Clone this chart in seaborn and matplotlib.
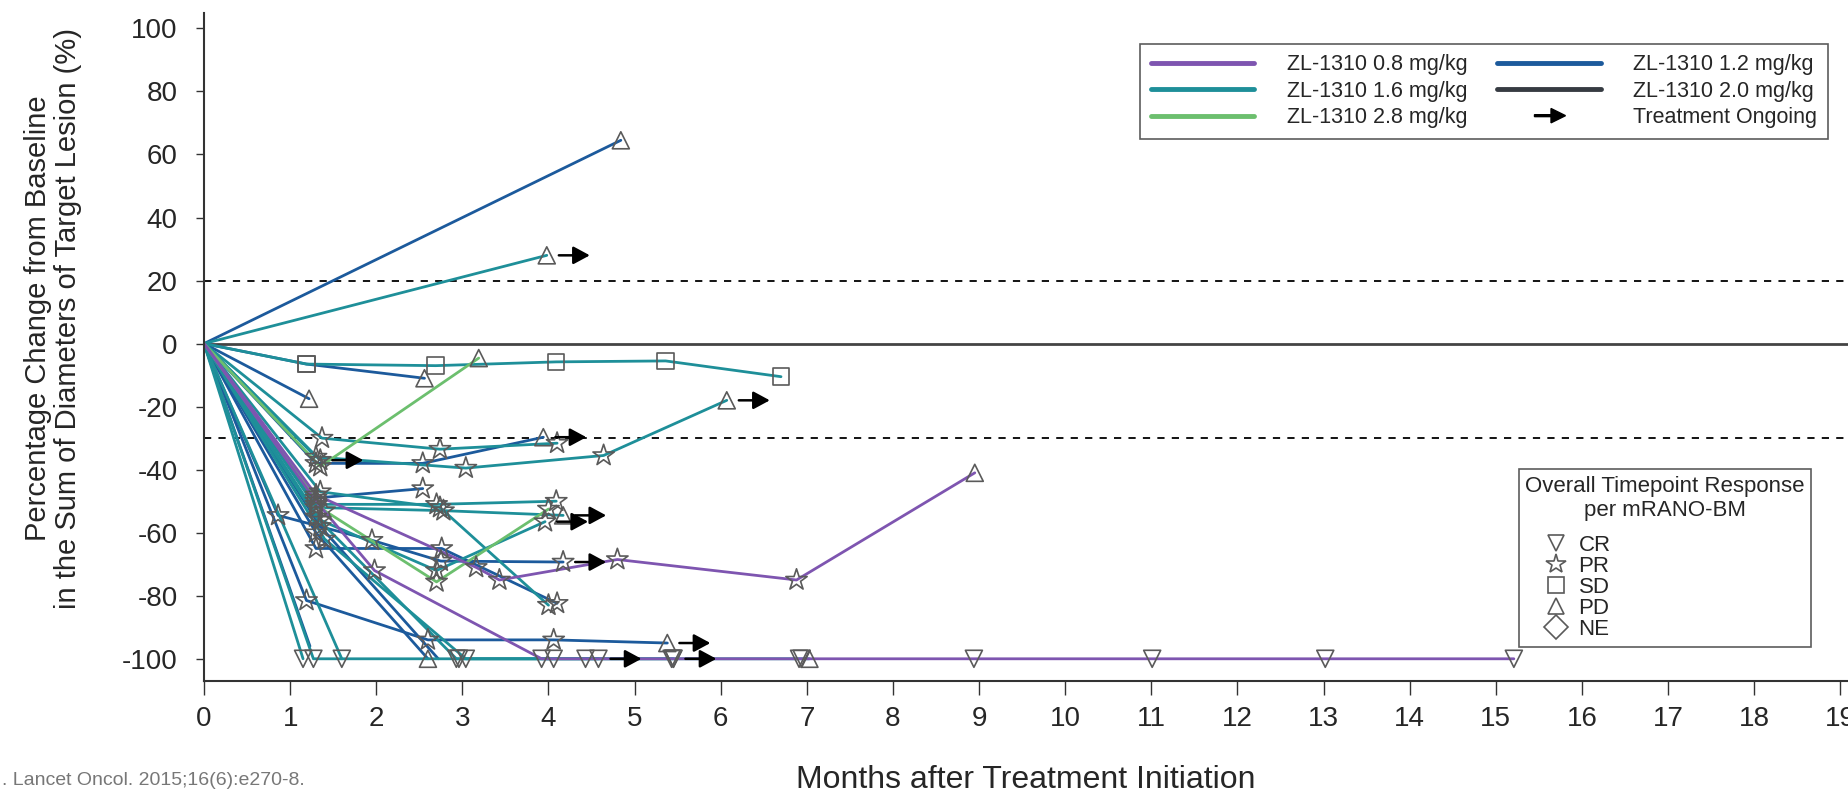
import matplotlib
matplotlib.use("Agg")
import matplotlib.pyplot as plt
import matplotlib.patches as mpatches
from matplotlib.legend_handler import HandlerPatch
from matplotlib.lines import Line2D
import pandas as pd
import seaborn as sns

DOSE_LABELS = ["0.8", "1.2", "1.6", "2.0", "2.8"]
DOSE_COLORS = ["#7e55b0", "#1c5a9c", "#1e8f99", "#363b42", "#6cbf6e"]

RESPONSES = ["CR", "PR", "SD", "PD", "NE"]
RESPONSE_MARKERS = ["v", "*", "s", "^", "D"]
RESPONSE_SIZES = [150, 260, 140, 150, 110]

X_TICKS = list(range(0, 20))
Y_TICKS = list(range(-100, 101, 20))

# one entry per patient: dose, assessment months, % change, response at each visit
PATIENT_DOSE = [
    "1.2", "1.6", "1.6", "1.2", "1.2", "2.8", "1.6", "1.2", "1.6", "1.6",
    "1.2", "1.6", "1.6", "2.8", "1.6", "1.6", "1.2", "1.2", "0.8", "0.8",
    "1.2", "1.6", "1.6", "1.6", "1.2", "1.2", "1.2", "1.6", "1.6",
]
PATIENT_MONTHS = [
    [0, 4.84],
    [0, 3.98],
    [0, 1.19, 2.69, 4.09, 5.36, 6.7],
    [0, 1.19, 2.56],
    [0, 1.22],
    [0, 1.35, 3.19],
    [0, 1.37, 2.74, 4.1],
    [0, 1.3, 2.54, 3.94],
    [0, 1.3, 3.04, 4.64, 6.07],
    [0, 1.35],
    [0, 1.3, 2.54],
    [0, 1.3, 2.7, 4.09],
    [0, 1.35, 2.74, 4.0],
    [0, 1.4, 2.7, 4.0],
    [0, 1.35, 2.7, 3.96],
    [0, 1.3, 2.78, 4.17],
    [0, 1.3, 2.76, 4.1],
    [0, 0.86, 1.95, 2.75, 4.17],
    [0, 1.3, 3.16, 3.43, 4.8, 6.88, 8.95],
    [0, 1.3, 1.98, 3.92, 5.43, 6.91, 8.94, 11.01, 13.02, 15.21],
    [0, 1.19, 2.6, 4.06, 5.38],
    [0, 1.27, 2.96, 4.06, 5.45],
    [0, 1.15],
    [0, 1.3, 2.93, 4.43, 5.45, 6.94, 7.03],
    [0, 1.23],
    [0, 1.3, 2.6],
    [0, 1.35, 2.72],
    [0, 1.6],
    [0, 1.4, 3.04, 4.58],
]
PATIENT_CHANGE = [
    [0, 64.5],
    [0, 28],
    [0, -6.5, -7, -5.8, -5.5, -10.5],
    [0, -6.5, -11],
    [0, -17.5],
    [0, -39, -4.6],
    [0, -30, -33.5, -31.6],
    [0, -38, -38, -29.7],
    [0, -36, -39.5, -35.5, -18],
    [0, -37],
    [0, -49, -46],
    [0, -51, -51, -50],
    [0, -47, -52, -83],
    [0, -53, -75.6, -52.5],
    [0, -56, -72, -56.5],
    [0, -52, -53, -54.5],
    [0, -65, -65, -82.4],
    [0, -54.5, -62.4, -69, -69.3],
    [0, -48, -71, -75, -68.5, -75, -41],
    [0, -50, -72, -100, -100, -100, -100, -100, -100, -100],
    [0, -81.5, -94, -94, -95],
    [0, -100, -100, -100, -100],
    [0, -100],
    [0, -55, -100, -100, -100, -100, -100],
    [0, -96],
    [0, -60, -100],
    [0, -58, -100],
    [0, -100],
    [0, -62, -100, -100],
]
PATIENT_RESPONSE = [
    ["", "PD"],
    ["", "PD"],
    ["", "SD", "SD", "SD", "SD", "SD"],
    ["", "SD", "PD"],
    ["", "PD"],
    ["", "PR", "PD"],
    ["", "PR", "PR", "PR"],
    ["", "PR", "PR", "PD"],
    ["", "PR", "PR", "PR", "PD"],
    ["", "PR"],
    ["", "PR", "PR"],
    ["", "PR", "PR", "PR"],
    ["", "PR", "PR", "PR"],
    ["", "PR", "PR", "PR"],
    ["", "PR", "PR", "PR"],
    ["", "PR", "PR", "PD"],
    ["", "PR", "PR", "PR"],
    ["", "PR", "PR", "PR", "PR"],
    ["", "PR", "PR", "PR", "PR", "PR", "PD"],
    ["", "PR", "PR", "CR", "CR", "CR", "CR", "CR", "CR", "CR"],
    ["", "PR", "PR", "PR", "PD"],
    ["", "CR", "CR", "CR", "CR"],
    ["", "CR"],
    ["", "PR", "CR", "CR", "CR", "CR", "PD"],
    ["", ""],
    ["", "PR", "PD"],
    ["", "PR", ""],
    ["", "CR"],
    ["", "PR", "CR", "CR"],
]
PATIENT_ONGOING = [
    False, True, False, False, False, False, False, True, True, True,
    False, False, False, False, True, True, False, True, False, False,
    True, True, False, False, False, False, False, False, True,
]


def build_frame():
    rows = []
    for pid, dose in enumerate(PATIENT_DOSE):
        for m, c, r in zip(PATIENT_MONTHS[pid], PATIENT_CHANGE[pid], PATIENT_RESPONSE[pid]):
            rows.append({"patient": pid, "dose": dose, "month": m, "change": c, "response": r})
    return pd.DataFrame(rows)


def make_arrow(legend, orig_handle, xdescent, ydescent, width, height, fontsize):
    return mpatches.FancyArrow(width * 0.36, height / 2, width * 0.3, 0,
                               width=1.4, head_width=height * 0.95,
                               head_length=width * 0.14, length_includes_head=True)


def main():
    df = build_frame()
    palette = dict(zip(DOSE_LABELS, DOSE_COLORS))

    sns.set_style("white")
    plt.rcParams["font.family"] = ["Liberation Sans", "DejaVu Sans"]
    plt.rcParams["axes.unicode_minus"] = False

    fig = plt.figure(figsize=(18.48, 7.94), dpi=100)
    ax = fig.add_axes([0.1104, 0.1421, 0.8896, 0.842])

    ax.axhline(0, color="#444444", lw=2.0, zorder=1)
    ax.axhline(20, color="black", lw=1.3, ls=(0, (4, 4)), zorder=1)
    ax.axhline(-30, color="black", lw=1.3, ls=(0, (4, 4)), zorder=1)

    sns.lineplot(data=df, x="month", y="change", hue="dose", units="patient",
                 estimator=None, sort=False, palette=palette, lw=2,
                 legend=False, ax=ax, zorder=2)

    marks = df[df["response"] != ""]
    n_before = len(ax.collections)
    sns.scatterplot(data=marks, x="month", y="change", style="response",
                    markers=dict(zip(RESPONSES, RESPONSE_MARKERS)),
                    style_order=RESPONSES, size="response",
                    sizes=dict(zip(RESPONSES, RESPONSE_SIZES)), size_order=RESPONSES,
                    color="#5a5a5a", edgecolor="#5a5a5a", linewidth=1.2,
                    legend=False, ax=ax, zorder=3)
    for coll in ax.collections[n_before:]:
        coll.set_facecolor("none")
        coll.set_edgecolor("#5a5a5a")

    for pid, ongoing in enumerate(PATIENT_ONGOING):
        if not ongoing:
            continue
        x = PATIENT_MONTHS[pid][-1]
        y = PATIENT_CHANGE[pid][-1]
        ax.annotate("", xy=(x + 0.5, y), xytext=(x + 0.14, y),
                    arrowprops=dict(arrowstyle="-|>,head_length=0.5,head_width=0.27",
                                    mutation_scale=20, lw=1.8, color="black",
                                    shrinkA=0, shrinkB=0), zorder=4)

    ax.set_xlim(0, 19.09)
    ax.set_ylim(-107.1, 105)
    ax.set_xticks(X_TICKS)
    ax.set_yticks(Y_TICKS)
    ax.tick_params(axis="x", direction="out", length=10, width=1, pad=8,
                   labelsize=20, bottom=True, color="#333333")
    ax.tick_params(axis="y", direction="out", length=6, width=1, pad=13,
                   labelsize=20, left=True, color="#333333")
    for side in ["top", "right"]:
        ax.spines[side].set_visible(False)
    for side in ["left", "bottom"]:
        ax.spines[side].set_color("#333333")
        ax.spines[side].set_linewidth(1.5)

    ax.set_xlabel("Months after Treatment Initiation", fontsize=23)
    ax.xaxis.set_label_coords(0.5, -0.126)
    ax.set_ylabel("Percentage Change from Baseline\nin the Sum of Diameters of Target Lesion (%)",
                  fontsize=21, linespacing=1.1)
    ax.yaxis.set_label_coords(-0.074, 0.543)

    # dose legend, filled column by column
    order = ["0.8", "1.6", "2.8", "1.2", "2.0"]
    handles = [Line2D([], [], color=palette[d], lw=3.5) for d in order]
    labels = [f"ZL-1310 {d} mg/kg" for d in order]
    arrow_proxy = mpatches.Patch(color="black")
    handles.append(arrow_proxy)
    labels.append("Treatment Ongoing")
    leg1 = ax.legend(handles, labels, ncol=2, loc="upper right",
                     bbox_to_anchor=(0.989, 0.945), bbox_transform=fig.transFigure,
                     borderaxespad=0, fontsize=15.5, frameon=True, fancybox=False,
                     edgecolor="#333333", handlelength=4.8, handletextpad=1.5,
                     columnspacing=1.4, labelspacing=0.25, borderpad=0.5,
                     handler_map={arrow_proxy: HandlerPatch(patch_func=make_arrow)})
    leg1.get_frame().set_linewidth(1.2)
    ax.add_artist(leg1)

    resp_handles = [Line2D([], [], marker=m, ls="None", markersize=12 if m != "*" else 15,
                           markerfacecolor="none", markeredgecolor="#5a5a5a",
                           markeredgewidth=1.2) for m in RESPONSE_MARKERS]
    leg2 = ax.legend(resp_handles, RESPONSES, loc="upper right",
                     bbox_to_anchor=(0.9802, 0.409), bbox_transform=fig.transFigure,
                     borderaxespad=0, title="Overall Timepoint Response\nper mRANO-BM",
                     title_fontsize=16, fontsize=16, frameon=True, fancybox=False,
                     edgecolor="#333333", handlelength=2.8, handletextpad=-0.4,
                     labelspacing=0.0, borderpad=0.3, alignment="left")
    leg2.get_title().set_multialignment("center")
    leg2._legend_box.sep = 10
    leg2.get_frame().set_linewidth(1.2)

    fig.text(0.001, 0.0166, ". Lancet Oncol. 2015;16(6):e270-8.", fontsize=14,
             color="#777777", ha="left", va="center")

    fig.savefig("out.png", dpi=100)


if __name__ == "__main__":
    main()
